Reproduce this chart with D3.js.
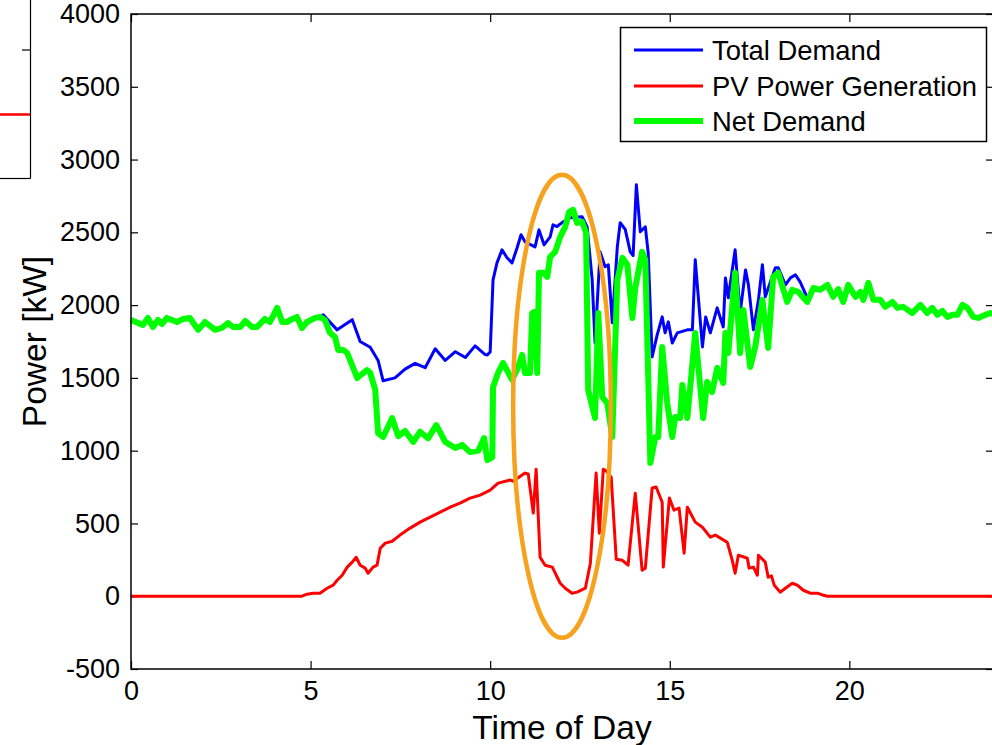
<!DOCTYPE html>
<html>
<head>
<meta charset="utf-8">
<script src="https://cdn.jsdelivr.net/npm/d3@7/dist/d3.min.js"></script>
<style>
  html, body { margin: 0; padding: 0; background: #fff; }
  svg { display: block; font-family: "Liberation Sans", Arial, sans-serif; }
</style>
</head>
<body>
<div id="chart"></div>
<script>
// values (hours, kW)
const netHours = [0, 0.33, 0.47, 0.61, 0.75, 0.86, 1.00, 1.28, 1.45, 1.64, 1.87, 2.06, 2.34, 2.53, 2.70, 2.84, 3.04, 3.18, 3.37, 3.51, 3.73, 3.87, 4.07, 4.21, 4.35, 4.43, 4.62, 4.76, 4.90, 5.13, 5.26, 5.40, 5.54, 5.68, 5.77, 5.91, 6.02, 6.30, 6.57, 6.66, 6.80, 6.88, 7.02, 7.27, 7.44, 7.63, 7.86, 8.05, 8.27, 8.50, 8.75, 9.03, 9.22, 9.44, 9.67, 9.83, 9.92, 10.06, 10.08, 10.22, 10.36, 10.61, 10.78, 10.89, 10.97, 11.11, 11.17, 11.25, 11.31, 11.36, 11.48, 11.59, 11.67, 11.81, 11.95, 12.09, 12.20, 12.31, 12.42, 12.56, 12.67, 12.73, 12.92, 13.01, 13.12, 13.26, 13.40, 13.54, 13.68, 13.82, 13.96, 14.04, 14.23, 14.32, 14.46, 14.60, 14.68, 14.79, 14.93, 15.07, 15.15, 15.29, 15.35, 15.49, 15.71, 15.93, 16.04, 16.18, 16.32, 16.49, 16.55, 16.63, 16.82, 16.96, 17.05, 17.24, 17.38, 17.58, 17.74, 17.88, 18.02, 18.27, 18.41, 18.58, 18.83, 19.00, 19.19, 19.39, 19.55, 19.69, 19.83, 19.97, 20.17, 20.31, 20.39, 20.53, 20.67, 20.86, 21.00, 21.20, 21.34, 21.50, 21.75, 21.98, 22.17, 22.31, 22.45, 22.59, 22.73, 22.87, 23.01, 23.15, 23.29, 23.45, 23.59, 23.79, 23.93, 24.0];
const netKW = [1898, 1864, 1912, 1850, 1898, 1870, 1912, 1884, 1905, 1912, 1830, 1884, 1830, 1843, 1877, 1850, 1850, 1891, 1850, 1850, 1905, 1884, 1981, 1884, 1884, 1898, 1919, 1843, 1884, 1912, 1919, 1898, 1809, 1781, 1692, 1692, 1671, 1499, 1554, 1534, 1417, 1121, 1094, 1224, 1100, 1135, 1060, 1130, 1085, 1176, 1060, 1018, 1040, 990, 1000, 1087, 935, 956, 1437, 1534, 1603, 1486, 1575, 1658, 1534, 1534, 1946, 1953, 1534, 2222, 2222, 2194, 2332, 2366, 2469, 2538, 2641, 2655, 2565, 2572, 2497, 1417, 1224, 1946, 1369, 1327, 1094, 2173, 2325, 2277, 1912, 2118, 2366, 2311, 915, 1094, 1094, 1713, 1327, 1094, 1231, 1224, 1451, 1224, 1809, 1224, 1472, 1403, 1568, 1465, 1809, 1671, 2222, 1671, 1967, 1575, 1713, 2036, 1706, 2194, 2222, 2022, 2105, 2090, 2022, 2118, 2105, 2139, 2057, 2110, 2022, 2139, 2057, 2090, 2036, 2153, 2036, 2036, 1988, 2022, 1981, 1988, 1946, 2001, 1946, 1981, 1933, 1960, 1919, 1933, 1933, 2001, 1981, 1919, 1912, 1933, 1946, 1940];

const totalHours = [0, 0.33, 0.47, 0.61, 0.75, 0.86, 1.00, 1.28, 1.45, 1.64, 1.87, 2.06, 2.34, 2.53, 2.70, 2.84, 3.04, 3.18, 3.37, 3.51, 3.73, 3.87, 4.07, 4.21, 4.35, 4.43, 4.62, 4.76, 4.90, 5.13, 5.26, 5.35, 5.74, 6.16, 6.38, 6.66, 6.88, 7.02, 7.35, 7.63, 7.91, 8.19, 8.47, 8.75, 9.03, 9.31, 9.58, 9.86, 9.92, 10.0, 10.08, 10.19, 10.33, 10.47, 10.61, 10.75, 10.86, 10.97, 11.25, 11.36, 11.50, 11.67, 11.75, 11.86, 12.03, 12.23, 12.56, 12.70, 12.84, 12.92, 13.06, 13.20, 13.29, 13.40, 13.54, 13.62, 13.76, 13.90, 13.98, 14.07, 14.18, 14.32, 14.40, 14.51, 14.65, 14.79, 14.87, 14.96, 15.07, 15.21, 15.49, 15.63, 15.71, 15.91, 16.00, 16.13, 16.32, 16.49, 16.55, 16.63, 16.82, 16.96, 17.11, 17.19, 17.33, 17.47, 17.58, 17.66, 17.94, 18.02, 18.22, 18.36, 18.50, 18.63, 18.83, 19.00, 19.19, 19.39, 19.55, 19.69, 19.83, 19.97, 20.17, 20.31, 20.39, 20.53, 20.67, 20.86, 21.00, 21.20, 21.34, 21.50, 21.75, 21.98, 22.17, 22.31, 22.45, 22.59, 22.73, 22.87, 23.01, 23.15, 23.29, 23.45, 23.59, 23.79, 23.93, 24.0];
const totalKW = [1898, 1864, 1912, 1850, 1898, 1870, 1912, 1884, 1905, 1912, 1830, 1884, 1830, 1843, 1877, 1850, 1850, 1891, 1850, 1850, 1905, 1884, 1981, 1884, 1884, 1898, 1919, 1843, 1884, 1912, 1919, 1933, 1830, 1900, 1750, 1710, 1620, 1480, 1500, 1560, 1600, 1570, 1700, 1620, 1680, 1640, 1720, 1660, 1658, 1678, 2173, 2290, 2380, 2325, 2290, 2394, 2483, 2435, 2400, 2517, 2414, 2469, 2552, 2540, 2572, 2600, 2607, 2538, 2173, 1740, 2366, 2263, 2277, 1878, 2400, 2566, 2520, 2366, 2340, 2827, 2504, 2538, 2359, 1644, 1795, 1919, 1810, 1885, 1740, 1809, 1830, 1830, 2311, 1713, 1919, 1809, 1981, 1850, 2187, 2050, 2380, 1946, 2242, 2139, 1830, 2036, 2277, 2057, 2256, 2256, 2139, 2187, 2208, 2160, 2050, 2118, 2105, 2139, 2057, 2110, 2022, 2139, 2057, 2090, 2036, 2153, 2036, 2036, 1988, 2022, 1981, 1988, 1946, 2001, 1946, 1981, 1933, 1960, 1919, 1933, 1933, 2001, 1981, 1919, 1912, 1933, 1946, 1940];

const pvHours = [0, 4.76, 4.90, 5.07, 5.26, 5.46, 5.63, 5.74, 5.88, 6.02, 6.16, 6.27, 6.38, 6.52, 6.60, 6.74, 6.85, 6.94, 7.08, 7.27, 7.49, 7.77, 8.05, 8.33, 8.61, 8.89, 9.16, 9.44, 9.72, 10.00, 10.22, 10.56, 10.64, 10.97, 11.06, 11.20, 11.28, 11.39, 11.53, 11.73, 11.95, 12.09, 12.28, 12.42, 12.65, 12.79, 12.95, 13.04, 13.15, 13.23, 13.37, 13.51, 13.68, 13.84, 14.04, 14.23, 14.32, 14.51, 14.62, 14.79, 14.82, 14.99, 15.12, 15.26, 15.40, 15.49, 15.71, 15.91, 16.13, 16.27, 16.41, 16.60, 16.74, 16.82, 16.91, 17.16, 17.21, 17.33, 17.44, 17.47, 17.66, 17.74, 17.83, 17.91, 18.08, 18.22, 18.41, 18.55, 18.72, 18.91, 19.11, 19.28, 19.39, 24.0];
const pvKW = [0, 0, 14, 21, 21, 55, 76, 110, 144, 200, 234, 268, 213, 193, 158, 200, 213, 330, 365, 378, 420, 468, 509, 543, 578, 612, 640, 674, 695, 729, 777, 798, 790, 846, 840, 571, 873, 268, 213, 200, 89, 55, 21, 28, 55, 227, 846, 433, 873, 860, 818, 254, 247, 213, 708, 179, 193, 743, 750, 646, 200, 674, 591, 605, 296, 612, 509, 474, 406, 420, 399, 371, 247, 158, 282, 261, 193, 200, 144, 282, 234, 131, 140, 76, 28, 55, 89, 76, 41, 21, 21, 7, 0, 0];

const seriesNames = ["Total Demand", "PV Power Generation", "Net Demand"];
const xTicks = [0, 5, 10, 15, 20];
const yTicks = [-500, 0, 500, 1000, 1500, 2000, 2500, 3000, 3500, 4000];

// circled mid-day region: centre (hour, kW) and half extents
const circleCentre = [12.0, 1305];
const circleHalf = [1.36, 1590];

const W = 992, H = 745;
const plot = { left: 131, right: 993, top: 14, bottom: 669 };

const svg = d3.select("#chart").append("svg")
  .attr("width", W)
  .attr("height", H);

const x = d3.scaleLinear().domain([0, 24]).range([plot.left, plot.right]);
const y = d3.scaleLinear().domain([-500, 4000]).range([plot.bottom, plot.top]);

// bit of the neighbouring subplot that is cut off on the left
const stub = svg.append("g");
stub.append("line").attr("x1", 30.5).attr("x2", 30.5).attr("y1", 0).attr("y2", 178.5)
  .attr("stroke", "#000").attr("stroke-width", 1.2);
stub.append("line").attr("x1", 0).attr("x2", 30.5).attr("y1", 178.5).attr("y2", 178.5)
  .attr("stroke", "#000").attr("stroke-width", 1.2);
stub.append("line").attr("x1", 22).attr("x2", 30.5).attr("y1", 50).attr("y2", 50)
  .attr("stroke", "#000").attr("stroke-width", 1.2);
stub.append("line").attr("x1", 0).attr("x2", 30).attr("y1", 114.5).attr("y2", 114.5)
  .attr("stroke", "#ff0000").attr("stroke-width", 2.5);

// axes, ticks pointing inward
const fontSize = 27;
const plainNum = d => String(d);
const axisLeftG = svg.append("g").attr("transform", `translate(${plot.left},0)`)
  .call(d3.axisLeft(y).tickValues(yTicks).tickFormat(plainNum)
    .tickSizeInner(-7).tickSizeOuter(0).tickPadding(11));
const axisRightG = svg.append("g").attr("transform", `translate(${plot.right},0)`)
  .call(d3.axisRight(y).tickValues(yTicks).tickSizeInner(-7).tickSizeOuter(0).tickFormat(""));
const axisBottomG = svg.append("g").attr("transform", `translate(0,${plot.bottom})`)
  .call(d3.axisBottom(x).tickValues(xTicks).tickFormat(plainNum)
    .tickSizeInner(-8).tickSizeOuter(0).tickPadding(12));
const axisTopG = svg.append("g").attr("transform", `translate(0,${plot.top})`)
  .call(d3.axisTop(x).tickValues(xTicks).tickSizeInner(-8).tickSizeOuter(0).tickFormat(""));

[axisLeftG, axisRightG, axisBottomG, axisTopG].forEach(g => {
  g.select(".domain").remove();
  g.selectAll(".tick line").attr("stroke", "#000").attr("stroke-width", 1.2);
  g.selectAll(".tick text")
    .attr("fill", "#000")
    .style("font-size", fontSize + "px")
    .style("font-family", "'Liberation Sans', Arial, sans-serif");
});

const line = d3.line().x(d => x(d[0])).y(d => y(d[1]));
const zipSeries = (hs, vs) => hs.map((h, i) => [h, vs[i]]);

const lines = svg.append("g");
lines.append("path").datum(zipSeries(totalHours, totalKW))
  .attr("fill", "none").attr("stroke", "#0000ff").attr("stroke-width", 3)
  .attr("stroke-linejoin", "round").attr("d", line);
lines.append("path").datum(zipSeries(pvHours, pvKW))
  .attr("fill", "none").attr("stroke", "#ff0000").attr("stroke-width", 3)
  .attr("stroke-linejoin", "round").attr("d", line);
lines.append("path").datum(zipSeries(netHours, netKW))
  .attr("fill", "none").attr("stroke", "#00ff00").attr("stroke-width", 6)
  .attr("stroke-linejoin", "round").attr("d", line);

// orange ellipse around the mid-day dip
svg.append("ellipse")
  .attr("cx", x(circleCentre[0]))
  .attr("cy", y(circleCentre[1]))
  .attr("rx", x(circleCentre[0] + circleHalf[0]) - x(circleCentre[0]))
  .attr("ry", y(circleCentre[1] - circleHalf[1]) - y(circleCentre[1]))
  .attr("fill", "none")
  .attr("stroke", "#f7a21e")
  .attr("stroke-width", 4.5);

// plot frame
svg.append("rect")
  .attr("x", plot.left).attr("y", plot.top)
  .attr("width", plot.right - plot.left).attr("height", plot.bottom - plot.top)
  .attr("fill", "none").attr("stroke", "#000").attr("stroke-width", 1.5);

// axis labels
svg.append("text")
  .attr("x", 562)
  .attr("y", 739)
  .attr("text-anchor", "middle")
  .style("font-size", "33.5px")
  .text("Time of Day");

svg.append("text")
  .attr("transform", `translate(46,${(plot.top + plot.bottom) / 2}) rotate(-90)`)
  .attr("text-anchor", "middle")
  .style("font-size", "33.5px")
  .text("Power [kW]");

// legend
const legend = svg.append("g");
legend.append("rect")
  .attr("x", 620.5).attr("y", 27.5).attr("width", 366).attr("height", 114)
  .attr("fill", "#fff").attr("stroke", "#000").attr("stroke-width", 1.5);
const legendColors = ["#0000ff", "#ff0000", "#00ff00"];
const legendWidths = [3, 3, 6];
const legendRows = [50, 86, 121];
seriesNames.forEach((name, i) => {
  legend.append("line")
    .attr("x1", 634).attr("x2", 703)
    .attr("y1", legendRows[i]).attr("y2", legendRows[i])
    .attr("stroke", legendColors[i]).attr("stroke-width", legendWidths[i]);
  legend.append("text")
    .attr("x", 712).attr("y", legendRows[i])
    .attr("dy", "0.35em")
    .style("font-size", "27.4px")
    .text(name);
});
</script>
</body>
</html>
